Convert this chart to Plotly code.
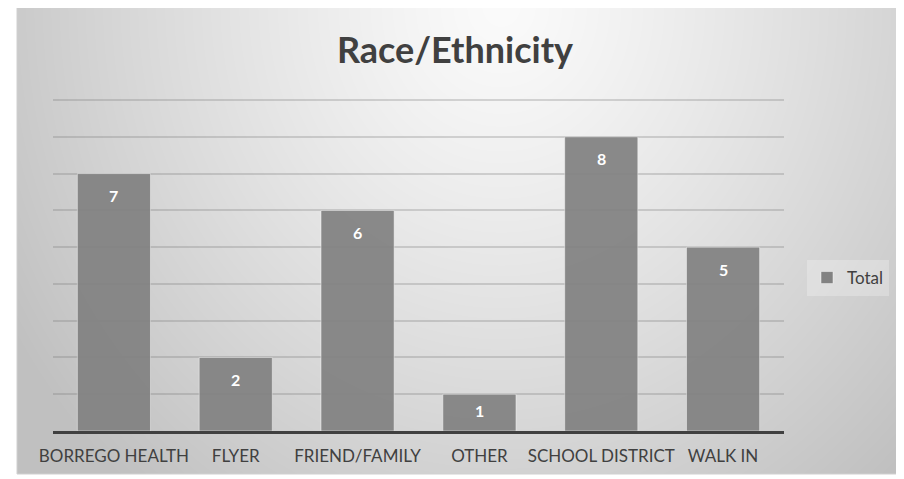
import zlib, struct, base64
import numpy as np
import plotly.graph_objects as go

categories = ["BORREGO HEALTH", "FLYER", "FRIEND/FAMILY", "OTHER", "SCHOOL DISTRICT", "WALK IN"]
totals = [7, 2, 6, 1, 8, 5]
series_name = "Total"
title_text = "Race/Ethnicity"

# ---- gradient background image (radial, Excel-like) ----
W, H = 880, 469
yy, xx = np.mgrid[0:H, 0:W]
dx = (xx - 0.55 * W) / (0.55 * W)
dy = (yy - 0.0 * H) / (1.15 * H)
d = np.sqrt(dx ** 2 + dy ** 2)
v = np.clip(251 - 48 * d ** 1.2, 192, 255).astype(np.uint8)

def make_png(arr):
    h, w = arr.shape
    raw = b"".join(b"\x00" + arr[i].tobytes() for i in range(h))
    def chunk(t, data):
        c = struct.pack(">I", len(data)) + t + data
        return c + struct.pack(">I", zlib.crc32(t + data) & 0xFFFFFFFF)
    return (b"\x89PNG\r\n\x1a\n" + chunk(b"IHDR", struct.pack(">IIBBBBB", w, h, 8, 0, 0, 0, 0))
            + chunk(b"IDAT", zlib.compress(raw, 9)) + chunk(b"IEND", b""))

img_src = "data:image/png;base64," + base64.b64encode(make_png(v)).decode()

# page offset from default body margin
OFF = 8
FW, FH = 904 - OFF, 479 - OFF
ML, MR, MT, MB = 53 - OFF, 904 - 784, 99 - OFF, 479 - 431
PW, PH = FW - ML - MR, FH - MT - MB
def px(x): return (x - OFF - ML) / PW
def py(y): return (FH - MB - (y - OFF)) / PH

FONT = "Lato, Open Sans, sans-serif"

fig = go.Figure()
fig.add_trace(go.Bar(
    x=categories, y=totals, name=series_name,
    marker=dict(color="rgb(130,130,130)", opacity=0.93,
                line=dict(color="rgba(255,255,255,0.45)", width=1)),
    showlegend=True,
))

for c, t in zip(categories, totals):
    fig.add_annotation(x=c, y=t, text=f"<b>{t}</b>", showarrow=False,
                       yanchor="middle", yshift=-22 if t > 1 else -16,
                       font=dict(family=FONT, size=16, color="white"))

fig.add_layout_image(dict(source=img_src, xref="paper", yref="paper",
                          x=px(17), y=py(5), sizex=px(897) - px(17), sizey=py(5) - py(474),
                          xanchor="left", yanchor="top", sizing="stretch", layer="below"))
fig.add_shape(type="rect", xref="paper", yref="paper", x0=px(17), x1=px(897), y0=py(474), y1=py(5),
              line=dict(color="#d0d0d0", width=1), fillcolor="rgba(0,0,0,0)", layer="above")

fig.update_layout(
    width=FW, height=FH,
    margin=dict(l=ML, r=MR, t=MT, b=MB),
    paper_bgcolor="white",
    plot_bgcolor="rgba(0,0,0,0)",
    title=dict(text=f"<b>{title_text}</b>", x=(455 - OFF) / FW, xanchor="center",
               y=1 - (50 - OFF) / FH, yanchor="middle",
               font=dict(family=FONT, size=36, color="#404040")),
    bargap=0.4,
    showlegend=True,
    legend=dict(x=px(807), y=py(278), xanchor="left", yanchor="middle",
                bgcolor="rgba(255,255,255,0.25)", borderwidth=0,
                font=dict(family=FONT, size=17, color="#404040"),
                itemwidth=30, tracegroupgap=0),
    font=dict(family=FONT),
)
fig.update_xaxes(showline=True, linecolor="#404040", linewidth=3, ticks="", showgrid=False,
                 tickfont=dict(family=FONT, size=17, color="#404040"),
                 ticklabelstandoff=8)
fig.update_yaxes(range=[0, 9.03], dtick=1, showticklabels=False, showgrid=True,
                 gridcolor="rgba(120,120,120,0.28)", gridwidth=1.5, zeroline=False, showline=False)

fig.write_html("out.html")
